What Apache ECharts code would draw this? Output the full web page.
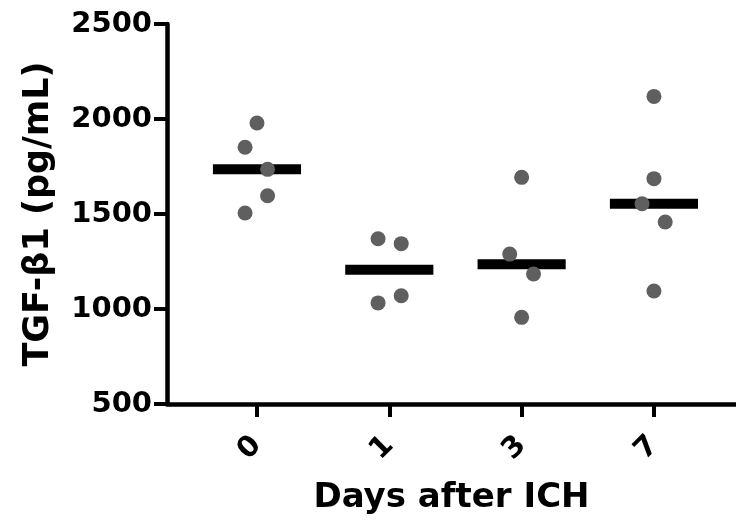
<!DOCTYPE html>
<html>
<head>
<meta charset="utf-8">
<script src="https://cdn.jsdelivr.net/npm/echarts@6/dist/echarts.min.js"></script>
<style>html,body{margin:0;padding:0;background:#fff}#c{width:736px;height:522px}</style>
</head>
<body>
<div id="c"></div>
<script>
const categories = ['0', '1', '3', '7'];
const yTicks = [500, 1000, 1500, 2000, 2500];
const values0 = [1979, 1851, 1735, 1596, 1505];
const values1 = [1370, 1344, 1070, 1032];
const values3 = [1693, 1289, 1184, 956];
const values7 = [2119, 1686, 1554, 1458, 1095];
const jitter0 = [0, -0.09, 0.08, 0.08, -0.09];
const jitter1 = [-0.085, 0.09, 0.09, -0.085];
const jitter3 = [0, -0.09, 0.09, 0];
const jitter7 = [0, 0, -0.09, 0.085, 0];
const medians = [1735, 1207, 1236, 1554];

const groups = [values0, values1, values3, values7];
const jitters = [jitter0, jitter1, jitter3, jitter7];
const points = [];
groups.forEach((vals, gi) => vals.forEach((v, i) => points.push([gi + jitters[gi][i], v])));
const medianData = medians.map((m, i) => [i, m]);
const catIdx = categories.map((c, i) => i);

const font = 'DejaVu Sans, sans-serif';
const chart = echarts.init(document.getElementById('c'), null, {renderer: 'canvas'});
chart.setOption({
  animation: false,
  grid: {left: 167, right: 0, top: 24, bottom: 118},
  xAxis: {
    type: 'value', min: -0.68, max: 3.62,
    splitLine: {show: false},
    axisLine: {show: true, lineStyle: {color: '#000', width: 4.5}},
    axisTick: {show: true, customValues: catIdx, length: 13, lineStyle: {color: '#000', width: 4}},
    axisLabel: {customValues: catIdx, formatter: v => categories[Math.round(v)], rotate: 45, margin: 37,
      color: '#000', fontSize: 29, fontWeight: 'bold', fontFamily: font},
    name: 'Days after ICH', nameLocation: 'middle', nameGap: 77,
    nameTextStyle: {color: '#000', fontSize: 34, fontWeight: 'bold', fontFamily: font}
  },
  yAxis: {
    type: 'value', min: yTicks[0], max: yTicks[yTicks.length - 1], interval: 500,
    splitLine: {show: false},
    axisLine: {show: true, onZero: false, lineStyle: {color: '#000', width: 4.5}},
    axisTick: {show: true, length: 13, lineStyle: {color: '#000', width: 4}},
    axisLabel: {margin: 15, formatter: v => String(v), color: '#000', fontSize: 29, fontWeight: 'bold', fontFamily: font},
    name: 'TGF-β1 (pg/mL)', nameLocation: 'middle', nameGap: 111,
    nameTextStyle: {color: '#000', fontSize: 35, fontWeight: 'bold', fontFamily: font}
  },
  series: [
    {
      type: 'custom', data: medianData, z: 2,
      renderItem: (params, api) => {
        const x = api.value(0), y = api.value(1);
        const l = api.coord([x - 0.333, y]);
        const r = api.coord([x + 0.333, y]);
        return {type: 'line', shape: {x1: l[0], y1: l[1], x2: r[0], y2: r[1]},
          style: {stroke: '#000', lineWidth: 10}};
      }
    },
    {
      type: 'scatter', data: points, z: 3, symbol: 'circle', symbolSize: 15,
      itemStyle: {color: '#5f5f5f', opacity: 1}
    }
  ]
});
</script>
</body>
</html>
